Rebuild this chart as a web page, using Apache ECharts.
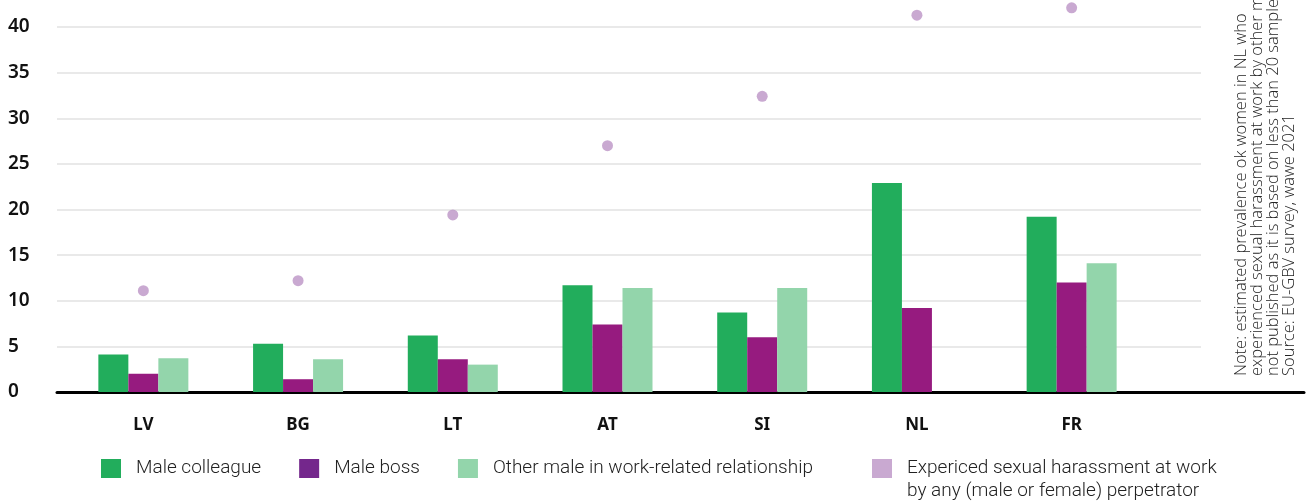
<!DOCTYPE html>
<html>
<head>
<meta charset="utf-8">
<script src="https://cdn.jsdelivr.net/npm/echarts@6/dist/echarts.min.js"></script>
<style>
  html, body { margin: 0; padding: 0; background: #fff; }
  #chart { width: 1312px; height: 504px; }
</style>
</head>
<body>
<div id="chart"></div>
<script>
var countries = ['LV', 'BG', 'LT', 'AT', 'SI', 'NL', 'FR'];
var maleColleague = [4.1, 5.3, 6.2, 11.7, 8.7, 22.9, 19.2];
var maleBoss = [2.0, 1.4, 3.6, 7.4, 6.0, 9.2, 12.0];
var otherMale = [3.7, 3.6, 3.0, 11.4, 11.4, null, 14.1];
var anyPerpetrator = [11.1, 12.2, 19.4, 27.0, 32.4, 41.3, 42.1];
var yTicks = [0, 5, 10, 15, 20, 25, 30, 35, 40];

var names = [
  'Male colleague',
  'Male boss',
  'Other male in work-related relationship',
  'Expericed sexual harassment at work\nby any (male or female) perpetrator'
];

var note = 'Note: estimated prevalence ok women in NL who\n' +
  'experienced sexual harassment at work by other male\n' +
  'not published as it is based on less than 20 samples\n' +
  'Source: EU-GBV survey, wawe 2021';

var chart = echarts.init(document.getElementById('chart'));

var gridTop = 27;
var gridBottom = 112;
var yMax = yTicks[yTicks.length - 1];

var legendText = {
  fontFamily: 'Roboto',
  fontWeight: 300,
  fontSize: 19,
  color: '#222',
  padding: [0, 0, 0, 10]
};

var option = {
  animation: false,
  grid: [
    { left: 57, right: 111, top: gridTop, bottom: gridBottom },
    { left: 66, right: 163, top: gridTop, bottom: gridBottom },
    { left: 57, right: 8, top: gridTop, bottom: gridBottom }
  ],
  xAxis: [
    { gridIndex: 0, type: 'value', show: false },
    {
      gridIndex: 1,
      type: 'category',
      data: countries,
      axisLine: { show: false },
      axisTick: { show: false },
      axisLabel: {
        margin: 25,
        fontFamily: 'Noto Sans',
        fontSize: 17,
        fontWeight: 'bold',
        color: '#111'
      }
    },
    {
      gridIndex: 2,
      type: 'value',
      axisLine: { show: true, lineStyle: { color: '#000', width: 3 } },
      axisTick: { show: false },
      axisLabel: { show: false },
      splitLine: { show: false }
    }
  ],
  yAxis: [
    {
      gridIndex: 0,
      type: 'value',
      min: 0,
      max: yMax,
      interval: 5,
      axisLine: { show: false },
      axisTick: { show: false },
      axisLabel: {
        align: 'left',
        margin: 49,
        fontFamily: 'Noto Sans',
        fontSize: 19,
        fontWeight: 600,
        color: '#111'
      },
      splitLine: { lineStyle: { color: '#e2e2e2', width: 1.5 } }
    },
    { gridIndex: 1, type: 'value', min: 0, max: yMax, show: false },
    { gridIndex: 2, type: 'value', min: 0, max: yMax, show: false }
  ],
  legend: [
    {
      data: [
        { name: names[0], itemStyle: { color: '#22ad5c' } },
        { name: names[1], itemStyle: { color: '#74278c' } },
        { name: names[2], itemStyle: { color: '#93d5ab' } }
      ],
      left: 101,
      top: 459,
      padding: 0,
      icon: 'rect',
      itemWidth: 20,
      itemHeight: 19,
      itemGap: 38,
      selectedMode: false,
      textStyle: legendText
    },
    {
      data: [{ name: names[3], itemStyle: { color: '#bb93c6' } }],
      left: 872,
      top: 434,
      padding: 0,
      icon: 'rect',
      itemWidth: 20,
      itemHeight: 19,
      selectedMode: false,
      formatter: function (name) { return '\n' + name; },
      textStyle: Object.assign({}, legendText, { lineHeight: 23 })
    }
  ],
  graphic: [
    {
      type: 'text',
      x: 1233,
      y: 376,
      rotation: Math.PI / 2,
      style: {
        text: note,
        fontFamily: 'Open Sans',
        fontWeight: 300,
        fontSize: 16.5,
        lineHeight: 16,
        fill: '#222',
        textAlign: 'left',
        textVerticalAlign: 'top'
      }
    }
  ],
  series: [
    {
      name: names[0], type: 'bar', xAxisIndex: 1, yAxisIndex: 1,
      data: maleColleague, barWidth: 30, barGap: '0%',
      itemStyle: { color: '#22ad5c' }
    },
    {
      name: names[1], type: 'bar', xAxisIndex: 1, yAxisIndex: 1,
      data: maleBoss, barWidth: 30, barGap: '0%',
      itemStyle: { color: '#961b7f' }
    },
    {
      name: names[2], type: 'bar', xAxisIndex: 1, yAxisIndex: 1,
      data: otherMale, barWidth: 30, barGap: '0%',
      itemStyle: { color: '#93d5ab' }
    },
    {
      name: names[3], type: 'scatter', xAxisIndex: 1, yAxisIndex: 1,
      data: anyPerpetrator, symbolSize: 11, clip: false,
      itemStyle: { color: '#bb93c6' }
    }
  ]
};

chart.setOption(option);
</script>
</body>
</html>
